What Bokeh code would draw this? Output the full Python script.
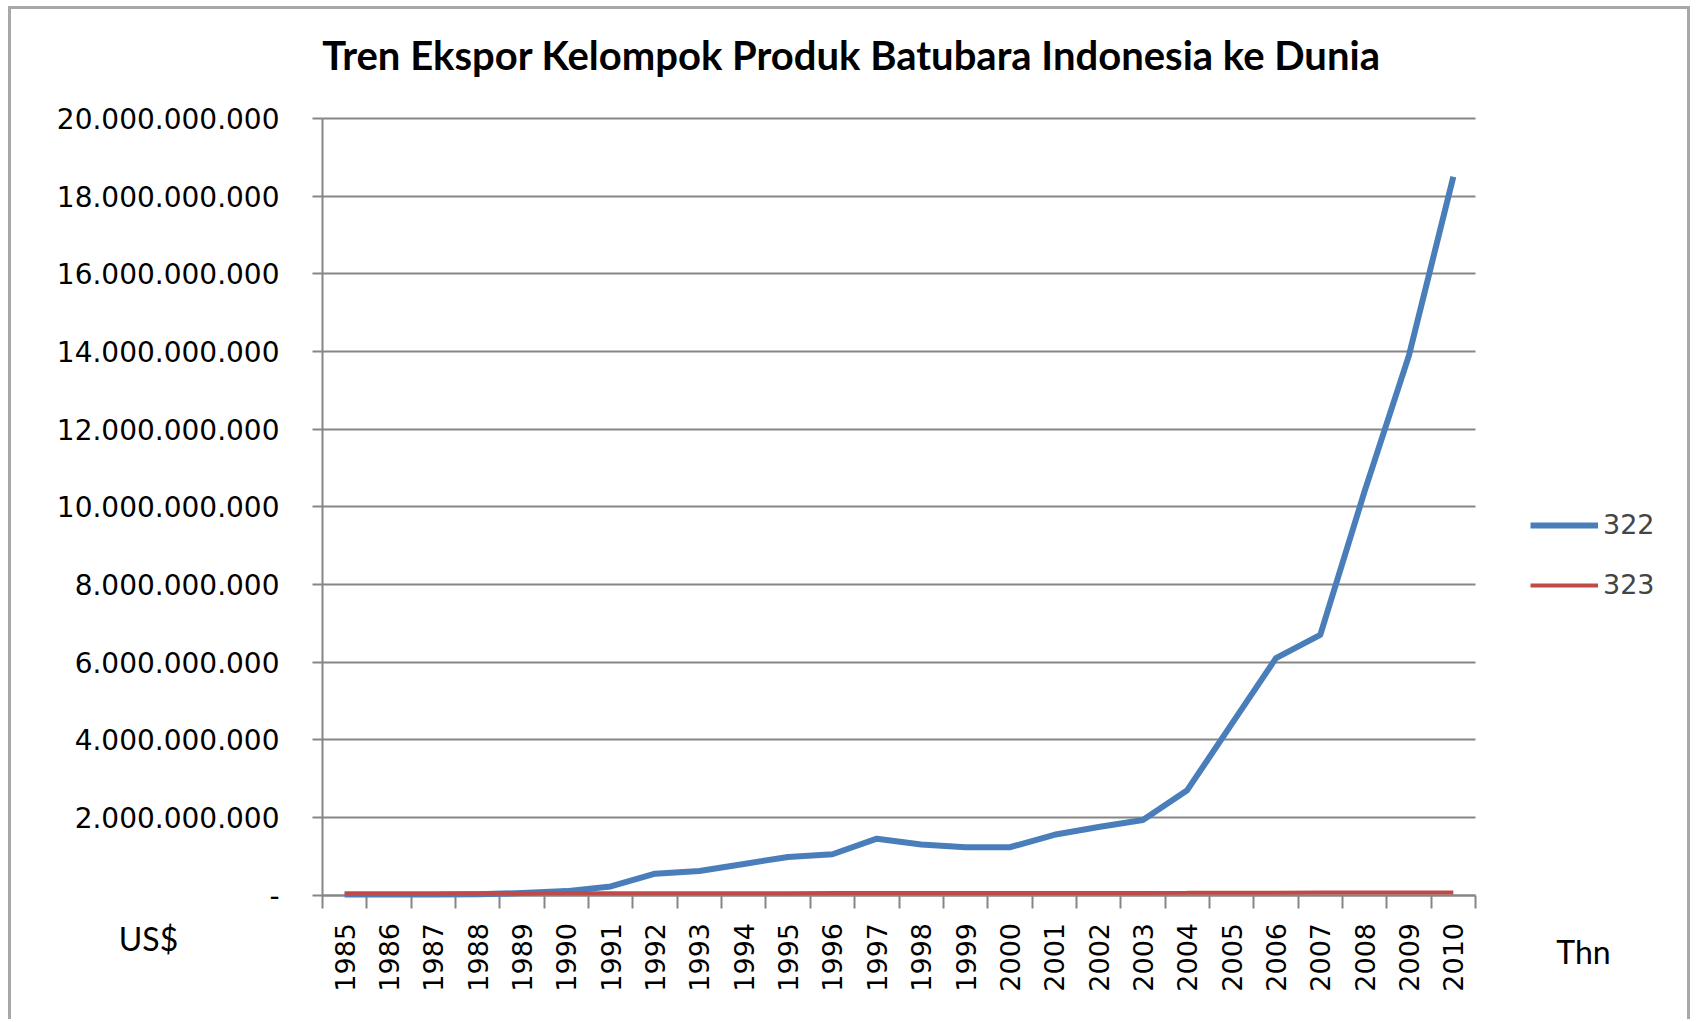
import math
from bokeh.plotting import figure
from bokeh.models import (ColumnDataSource, FixedTicker, CustomJSTickFormatter, Legend, LegendItem,
                          Label, Range1d)
from bokeh.embed import file_html
from bokeh.resources import INLINE

years = list(range(1985, 2011))
series_322 = [0.01e9, 0.01e9, 0.01e9, 0.02e9, 0.05e9, 0.10e9, 0.22e9, 0.55e9, 0.62e9, 0.80e9,
              0.98e9, 1.05e9, 1.45e9, 1.30e9, 1.23e9, 1.23e9, 1.55e9, 1.75e9, 1.93e9, 2.70e9,
              4.40e9, 6.10e9, 6.70e9, 10.40e9, 13.90e9, 18.50e9]
series_323 = [40e6, 40e6, 40e6, 42e6, 42e6, 44e6, 45e6, 46e6, 46e6, 47e6,
              48e6, 49e6, 50e6, 49e6, 49e6, 50e6, 51e6, 52e6, 53e6, 55e6,
              58e6, 60e6, 62e6, 65e6, 64e6, 66e6]
y_ticks = [i * 2e9 for i in range(11)]
title_text = "Tren Ekspor Kelompok Produk Batubara Indonesia ke Dunia"
legend_names = ["322", "323"]
y_unit = "US$"
x_unit = "Thn"

# canvas size and where the plotting area sits inside it (pixels)
W, H = 1682, 1013
AREA_L, AREA_R, AREA_T, AREA_B = 311, 1464, 109, 885.5

x_lo, x_hi = years[0] - 0.5, years[-1] + 0.5
y_lo, y_hi = 0, y_ticks[-1]
ux = (x_hi - x_lo) / (AREA_R - AREA_L)
uy = (y_hi - y_lo) / (AREA_B - AREA_T)

p = figure(width=W, height=H, output_backend="svg", toolbar_location=None, title_location=None,
           x_range=Range1d(x_lo - AREA_L * ux, x_hi + (W - AREA_R) * ux),
           y_range=Range1d(y_lo - (H - AREA_B) * uy, y_hi + AREA_T * uy),
           min_border=0)
p.styles = {"margin-left": "8px", "margin-top": "6px",
            "border-left": "3px solid #a8a8a8", "border-top": "3px solid #a8a8a8",
            "border-right": "3px solid #a8a8a8"}
p.outline_line_color = None
p.background_fill_color = "white"
p.border_fill_color = "white"

grid_col = "#868686"
p.xgrid.visible = False
yg = p.ygrid[0]
yg.ticker = FixedTicker(ticks=y_ticks)
yg.grid_line_color = grid_col
yg.grid_line_width = 2
if "cross_bounds" in yg.properties():
    yg.cross_bounds = (x_lo, x_hi)
else:
    yg.visible = False
    p.segment(x0=[x_lo] * len(y_ticks), x1=[x_hi] * len(y_ticks), y0=y_ticks, y1=y_ticks,
              line_color=grid_col, line_width=2)

src = ColumnDataSource(dict(x=years, a=series_322, b=series_323))
r1 = p.line("x", "a", source=src, line_color="#4A7EBB", line_width=6, line_join="round",
            level="overlay")
r2 = p.line("x", "b", source=src, line_color="#BE4B48", line_width=4, level="overlay")

xa = p.xaxis[0]
xa.fixed_location = y_lo
xa.bounds = (x_lo, x_hi)
xa.ticker = FixedTicker(ticks=years, minor_ticks=[y - 0.5 for y in years] + [years[-1] + 0.5])
xa.major_label_orientation = math.pi / 2
xa.major_tick_out = 0
xa.major_tick_in = 0
xa.minor_tick_out = 13
xa.minor_tick_in = 0
xa.minor_tick_line_color = grid_col
xa.minor_tick_line_width = 2
xa.axis_line_color = grid_col
xa.axis_line_width = 2
xa.major_label_text_font = "DejaVu Sans"
xa.major_label_text_font_size = "27px"
xa.major_label_text_color = "black"
xa.major_label_standoff = 15

ya = p.yaxis[0]
ya.fixed_location = x_lo
ya.bounds = (y_lo, y_hi)
ya.ticker = FixedTicker(ticks=y_ticks, minor_ticks=[])
ya.formatter = CustomJSTickFormatter(code="""
if (Math.abs(tick) < 1) return '-';
return Math.round(tick).toString().replace(/\\B(?=(\\d{3})+(?!\\d))/g, '.');
""")
ya.major_tick_out = 10
ya.major_tick_in = 0
ya.major_tick_line_color = grid_col
ya.major_tick_line_width = 2
ya.axis_line_color = grid_col
ya.axis_line_width = 2
ya.major_label_text_font = "DejaVu Sans"
ya.major_label_text_font_size = "28px"
ya.major_label_text_color = "black"
ya.major_label_standoff = 33

legend = Legend(items=[LegendItem(label=legend_names[0], renderers=[r1]),
                       LegendItem(label=legend_names[1], renderers=[r2])],
                location=(1519, 422), padding=0, margin=0, spacing=29,
                glyph_width=68, glyph_height=30, label_standoff=5,
                border_line_color=None, background_fill_alpha=0,
                label_text_font="DejaVu Sans", label_text_font_size="27px",
                label_height=30)
p.add_layout(legend, "center")

p.add_layout(Label(x=840, y=968, x_units="screen", y_units="screen", text=title_text,
                   text_font="Lato", text_font_style="bold", text_font_size="40px",
                   text_align="center", text_baseline="middle", text_color="black"))
p.add_layout(Label(x=137, y=84, x_units="screen", y_units="screen", text=y_unit,
                   text_font="Lato", text_font_size="32px",
                   text_align="center", text_baseline="middle", text_color="black"))
p.add_layout(Label(x=1572, y=71, x_units="screen", y_units="screen", text=x_unit,
                   text_font="Lato", text_font_size="32px",
                   text_align="center", text_baseline="middle", text_color="black"))

open("out.html", "w").write(file_html(p, INLINE))
